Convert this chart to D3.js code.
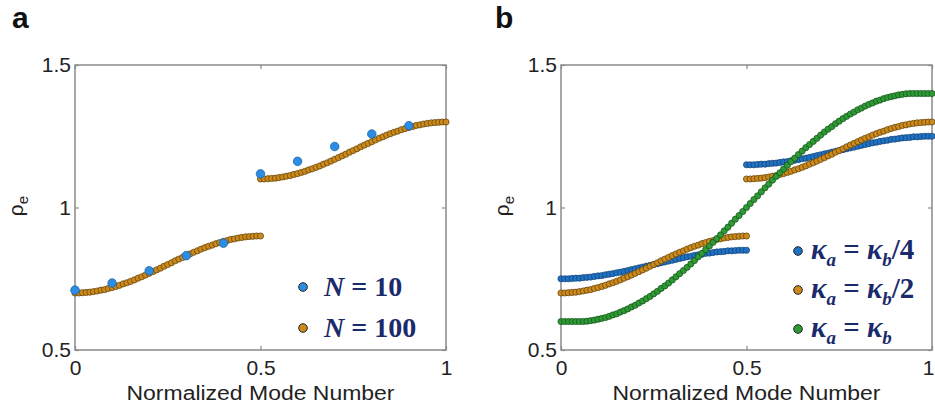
<!DOCTYPE html>
<html lang="en">
<head>
<meta charset="UTF-8">
<title>rho_e vs normalized mode number</title>
<script src="https://cdn.jsdelivr.net/npm/d3@7"></script>
<style>
  body { margin: 0; background: #fff; }
  svg text { font-family: "Liberation Sans", Arial, sans-serif; fill: #222; }
</style>
</head>
<body>
<svg id="viz" width="935" height="408"></svg>
<script>
// mode numbers for the dense (N = 100) curves, split at the band gap
const N = 100;
const lowModes = d3.range(0, 51);    // 0 .. 0.5
const highModes = d3.range(50, 101); // 0.5 .. 1

// kappa_a = kappa_b / 2 (also the N = 100 curve of panel a)
const halfLow = [0.700,0.700,0.701,0.702,0.703,0.705,0.707,0.710,0.712,0.716,0.719,0.723,0.727,0.732,0.736,0.741,0.746,0.752,0.757,0.763,0.769,0.775,0.781,0.787,0.794,0.800,
  0.806,0.813,0.819,0.825,0.831,0.837,0.843,0.848,0.854,0.859,0.864,0.868,0.873,0.877,0.881,0.884,0.888,0.890,0.893,0.895,0.897,0.898,0.899,0.900,0.900];
const halfHigh = [1.100,1.100,1.101,1.102,1.103,1.105,1.107,1.110,1.112,1.116,1.119,1.123,1.127,1.132,1.136,1.141,1.146,1.152,1.157,1.163,1.169,1.175,1.181,1.187,1.194,1.200,
  1.206,1.213,1.219,1.225,1.231,1.237,1.243,1.248,1.254,1.259,1.264,1.268,1.273,1.277,1.281,1.284,1.288,1.290,1.293,1.295,1.297,1.298,1.299,1.300,1.300];

// kappa_a = kappa_b / 4
const quarterLow = [0.750,0.750,0.750,0.751,0.752,0.752,0.754,0.755,0.756,0.758,0.760,0.761,0.764,0.766,0.768,0.771,0.773,0.776,0.779,0.782,0.785,0.788,0.791,0.794,0.797,0.800,
  0.803,0.806,0.809,0.812,0.815,0.818,0.821,0.824,0.827,0.829,0.832,0.834,0.836,0.839,0.840,0.842,0.844,0.845,0.846,0.848,0.848,0.849,0.850,0.850,0.850];
const quarterHigh = [1.150,1.150,1.150,1.151,1.152,1.152,1.154,1.155,1.156,1.158,1.160,1.161,1.164,1.166,1.168,1.171,1.173,1.176,1.179,1.182,1.185,1.188,1.191,1.194,1.197,1.200,
  1.203,1.206,1.209,1.212,1.215,1.218,1.221,1.224,1.227,1.229,1.232,1.234,1.236,1.239,1.240,1.242,1.244,1.245,1.246,1.248,1.248,1.249,1.250,1.250,1.250];

// kappa_a = kappa_b (no gap)
const equalAll = [0.600,0.600,0.600,0.600,0.600,0.600,0.600,0.601,0.603,0.605,0.608,0.611,0.614,0.618,0.623,0.627,0.633,0.638,0.644,0.651,0.657,0.665,0.672,0.680,0.688,0.697,
  0.706,0.716,0.725,0.735,0.746,0.757,0.768,0.779,0.790,0.802,0.814,0.827,0.839,0.852,0.865,0.878,0.891,0.904,0.918,0.931,0.945,0.959,0.972,0.986,1.000,
  1.014,1.028,1.041,1.055,1.069,1.082,1.096,1.109,1.122,1.135,1.148,1.161,1.173,1.186,1.198,1.210,1.221,1.232,1.243,1.254,1.265,1.275,1.284,1.294,1.303,
  1.312,1.320,1.328,1.335,1.343,1.349,1.356,1.362,1.367,1.373,1.377,1.382,1.386,1.389,1.392,1.395,1.397,1.399,1.400,1.400,1.400,1.400,1.400,1.400,1.400];

// N = 10 points
const coarseX = [0, 0.1, 0.2, 0.3, 0.4, 0.5, 0.6, 0.7, 0.8, 0.9];
const coarseY = [0.710, 0.735, 0.778, 0.831, 0.875, 1.118, 1.162, 1.214, 1.258, 1.287];

const xTicks = [0, 0.5, 1];
const yTicks = [0.5, 1, 1.5];

const colors = {
  blueA: "#2b8de3", blue: "#1f72c4", orange: "#cc8a1c", green: "#2f9a35"
};
const legendInk = "#1b2a6b";

const svg = d3.select("#viz");

function toPoints(modes, vals) {
  return modes.map((m, i) => ({x: m / N, y: vals[i]}));
}

function drawPanel(left, right, letter, letterX) {
  const top = 65, bottom = 350;
  const x = d3.scaleLinear().domain([0, 1]).range([left, right]);
  const y = d3.scaleLinear().domain([0.5, 1.5]).range([bottom, top]);
  const g = svg.append("g");

  g.append("rect")
    .attr("x", left).attr("y", top)
    .attr("width", right - left).attr("height", bottom - top)
    .attr("fill", "none").attr("stroke", "#8a8a8a").attr("stroke-width", 1.5);

  const ax = g.append("g")
    .attr("class", "xaxis")
    .attr("transform", `translate(0,${bottom})`)
    .call(d3.axisBottom(x).tickValues(xTicks).tickFormat(d3.format("")).tickSizeInner(-4).tickSizeOuter(0).tickPadding(10));
  ax.select(".domain").remove();

  const ay = g.append("g")
    .attr("transform", `translate(${left},0)`)
    .call(d3.axisLeft(y).tickValues(yTicks).tickFormat(d3.format("")).tickSizeInner(-4).tickSizeOuter(0).tickPadding(4));
  ay.select(".domain").remove();

  const axT = g.append("g")
    .attr("transform", `translate(0,${top})`)
    .call(d3.axisTop(x).tickValues(xTicks).tickFormat("").tickSizeInner(-4).tickSizeOuter(0));
  axT.select(".domain").remove();

  const ayR = g.append("g")
    .attr("transform", `translate(${right},0)`)
    .call(d3.axisRight(y).tickValues(yTicks).tickFormat("").tickSizeInner(-4).tickSizeOuter(0));
  ayR.select(".domain").remove();

  g.selectAll(".tick line").attr("stroke", "#8a8a8a").attr("stroke-width", 1.2);
  g.selectAll(".tick text")
    .attr("font-size", 21)
    .attr("fill", "#222")
    .style("font-family", '"Liberation Sans", Arial, sans-serif');

  g.append("text")
    .attr("x", (left + right) / 2)
    .attr("y", 400)
    .attr("text-anchor", "middle")
    .attr("font-size", 20)
    .attr("textLength", 268)
    .attr("lengthAdjust", "spacingAndGlyphs")
    .text("Normalized Mode Number");

  const yl = g.append("text")
    .attr("transform", `translate(${left - 52},206) rotate(-90)`)
    .attr("text-anchor", "middle")
    .attr("font-size", 21);
  yl.append("tspan").text("ρ");
  yl.append("tspan").attr("font-size", 15).attr("dy", 5).text("e");

  svg.append("text")
    .attr("x", letterX).attr("y", 28)
    .attr("font-size", 30)
    .attr("font-weight", 700)
    .style("fill", "#111")
    .text(letter);

  return {g, x, y};
}

function dots(p, data, fill, r, stroke) {
  p.g.append("g")
    .selectAll("circle")
    .data(data)
    .join("circle")
      .attr("cx", d => p.x(d.x))
      .attr("cy", d => p.y(d.y))
      .attr("r", r)
      .attr("fill", fill)
      .attr("stroke", stroke)
      .attr("stroke-width", 0.7);
}

// ---- panel a ----
const pa = drawPanel(75, 446, "a", 12);
dots(pa, toPoints(lowModes, halfLow).concat(toPoints(highModes, halfHigh)), colors.orange, 3.1, "#5b3d08");
dots(pa, coarseX.map((v, i) => ({x: v, y: coarseY[i]})), colors.blueA, 4.3, "#1d5d9c");

const legA = [
  {label: "10", color: colors.blueA, y: 287},
  {label: "100", color: colors.orange, y: 328}
];
legA.forEach(d => {
  pa.g.append("circle")
    .attr("cx", 303).attr("cy", d.y).attr("r", 4.3)
    .attr("fill", d.color).attr("stroke", "#222").attr("stroke-width", 1);
  const t = pa.g.append("text")
    .attr("x", 324).attr("y", d.y + 9)
    .attr("font-size", 28)
    .attr("font-weight", 700)
    .style("font-family", '"Liberation Serif", "Times New Roman", serif')
    .style("fill", legendInk);
  t.append("tspan").attr("font-style", "italic").text("N");
  t.append("tspan").text(" = " + d.label);
});

// ---- panel b ----
const pb = drawPanel(561, 932, "b", 495);
// keep the last x tick label inside the picture
pb.g.select(".xaxis").selectAll(".tick text").filter(d => d === 1).attr("dx", -4);
dots(pb, toPoints(lowModes, quarterLow).concat(toPoints(highModes, quarterHigh)), colors.blue, 3.1, "#123f6e");
dots(pb, toPoints(lowModes, halfLow).concat(toPoints(highModes, halfHigh)), colors.orange, 3.1, "#5b3d08");
dots(pb, toPoints(d3.range(0, 101), equalAll), colors.green, 3.1, "#134d17");

const legB = [
  {tail: "/4", color: colors.blue, y: 251},
  {tail: "/2", color: colors.orange, y: 290},
  {tail: "", color: colors.green, y: 329}
];
legB.forEach(d => {
  pb.g.append("circle")
    .attr("cx", 798).attr("cy", d.y).attr("r", 4.3)
    .attr("fill", d.color).attr("stroke", "#222").attr("stroke-width", 1);
  const t = pb.g.append("text")
    .attr("x", 811).attr("y", d.y + 8)
    .attr("font-size", 29)
    .attr("font-weight", 700)
    .style("font-family", '"Liberation Serif", "Times New Roman", serif')
    .style("fill", legendInk);
  t.append("tspan").attr("font-style", "italic").text("κ");
  t.append("tspan").attr("font-style", "italic").attr("font-size", 19).attr("dy", 7).text("a");
  t.append("tspan").attr("dy", -7).text(" = ");
  t.append("tspan").attr("font-style", "italic").text("κ");
  t.append("tspan").attr("font-style", "italic").attr("font-size", 19).attr("dy", 7).text("b");
  t.append("tspan").attr("dy", -7).text(d.tail);
});
</script>
</body>
</html>
